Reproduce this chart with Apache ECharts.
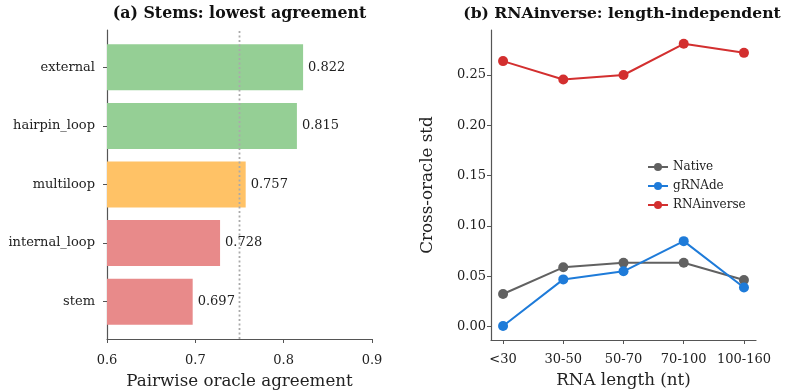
<!DOCTYPE html>
<html>
<head>
<meta charset="utf-8">
<script src="https://cdn.jsdelivr.net/npm/echarts@6/dist/echarts.min.js"></script>
<style>html,body{margin:0;padding:0;background:#fff}#c{width:786px;height:391px}</style>
</head>
<body>
<div id="c"></div>
<script>
// ---- data ----
const regions = ['external', 'hairpin_loop', 'multiloop', 'internal_loop', 'stem'];
const agreement = [0.822, 0.815, 0.757, 0.728, 0.697];
const regionColors = ['#95cf95', '#95cf95', '#ffc266', '#e88a8a', '#e88a8a'];
const threshold = 0.75;
const agreeTicks = [0.6, 0.7, 0.8, 0.9];

const lengthBins = ['<30', '30-50', '50-70', '70-100', '100-160'];
const nativeStd = [0.0325, 0.059, 0.0636, 0.0636, 0.0464];
const grnadeStd = [0.0007, 0.047, 0.055, 0.085, 0.039];
const rnainverseStd = [0.2638, 0.2455, 0.250, 0.281, 0.272];
const stdTicks = [0, 0.05, 0.10, 0.15, 0.20, 0.25];

const FONT = 'DejaVu Serif';
const AX = '#555';
const TXT = '#222';

const chart = echarts.init(document.getElementById('c'), null, {renderer: 'canvas'});

const pts = arr => arr.map((v, i) => [i, v]);

const option = {
  animation: false,
  textStyle: {fontFamily: FONT},
  graphic: [
    {type: 'text', x: 239.5, y: 14, style: {text: '(a) Stems: lowest agreement', textAlign: 'center', textVerticalAlign: 'middle', font: 'bold 15.8px "DejaVu Serif"', fill: '#111'}},
    {type: 'text', x: 622, y: 14, style: {text: '(b) RNAinverse: length-independent', textAlign: 'center', textVerticalAlign: 'middle', font: 'bold 15.6px "DejaVu Serif"', fill: '#111'}}
  ],
  grid: [
    {left: 107, top: 30, width: 265, height: 309, containLabel: false, outerBoundsMode: 'none'},
    {left: 107, top: 38, width: 265, height: 293, containLabel: false, outerBoundsMode: 'none'},
    {left: 491, top: 30, width: 265, height: 310, containLabel: false, outerBoundsMode: 'none'}
  ],
  xAxis: [
    {gridIndex: 0, type: 'value', min: 0.6, max: 0.9, interval: 0.1,
     axisLine: {show: true, onZero: false, lineStyle: {color: AX, width: 1.2}},
     axisTick: {show: true, inside: false, length: 4, lineStyle: {color: AX}},
     axisLabel: {margin: 15, fontSize: 13, color: TXT, fontFamily: FONT, formatter: v => v.toFixed(1)},
     splitLine: {show: false},
     name: 'Pairwise oracle agreement', nameLocation: 'middle', nameGap: 34,
     nameTextStyle: {fontSize: 16.7, color: TXT, fontFamily: FONT}},
    {gridIndex: 1, type: 'value', min: 0.6, max: 0.9, show: false},
    {gridIndex: 2, type: 'value', min: -0.2, max: 4.2,
     axisLine: {show: true, onZero: false, lineStyle: {color: AX, width: 1.2}},
     axisTick: {show: true, length: 4, lineStyle: {color: AX}, customValues: [0, 1, 2, 3, 4]},
     axisLabel: {margin: 13, fontSize: 13, color: TXT, fontFamily: FONT, customValues: [0, 1, 2, 3, 4],
       formatter: v => lengthBins[Math.round(v)]},
     splitLine: {show: false},
     name: 'RNA length (nt)', nameLocation: 'middle', nameGap: 32,
     nameTextStyle: {fontSize: 16.7, color: TXT, fontFamily: FONT}}
  ],
  yAxis: [
    {gridIndex: 0, type: 'value', min: 0, max: 1,
     axisLine: {show: true, onZero: false, lineStyle: {color: AX, width: 1.2}},
     axisTick: {show: false}, axisLabel: {show: false}, splitLine: {show: false}},
    {gridIndex: 1, type: 'category', data: regions, inverse: true,
     axisLine: {show: false},
     axisTick: {show: true, alignWithLabel: true, length: 4, lineStyle: {color: AX}},
     axisLabel: {margin: 12, fontSize: 13, color: TXT, fontFamily: FONT}},
    {gridIndex: 2, type: 'value', min: -0.0132, max: 0.2947,
     axisLine: {show: true, onZero: false, lineStyle: {color: AX, width: 1.2}},
     axisTick: {show: true, length: 4, lineStyle: {color: AX}, customValues: stdTicks},
     axisLabel: {margin: 5, fontSize: 13, color: TXT, fontFamily: FONT, customValues: stdTicks,
       formatter: v => v.toFixed(2)},
     splitLine: {show: false},
     name: 'Cross-oracle std', nameLocation: 'middle', nameGap: 55, nameRotate: 90,
     nameTextStyle: {fontSize: 16.7, color: TXT, fontFamily: FONT}}
  ],
  legend: {
    left: 642, top: 156, orient: 'vertical', itemWidth: 20, itemHeight: 10, itemGap: 7,
    data: ['Native', 'gRNAde', 'RNAinverse'],
    textStyle: {fontSize: 12, color: TXT, fontFamily: FONT}
  },
  series: [
    {type: 'bar', xAxisIndex: 1, yAxisIndex: 1, barWidth: 46,
     data: agreement.map((v, i) => ({value: v, itemStyle: {color: regionColors[i]}})),
     label: {show: true, position: 'right', distance: 5, fontSize: 13, color: TXT, fontFamily: FONT,
       formatter: p => p.value.toFixed(3)}, z: 2},
    {type: 'line', xAxisIndex: 0, yAxisIndex: 0, data: [[threshold, 0], [threshold, 1]],
     symbol: 'none', lineStyle: {color: '#aaaaaa', width: 1.8, type: [2, 2.5]}, z: 5, silent: true},
    {name: 'Native', type: 'line', xAxisIndex: 2, yAxisIndex: 2, data: pts(nativeStd),
     symbol: 'circle', symbolSize: 10, itemStyle: {color: '#616161'}, lineStyle: {color: '#616161', width: 2}},
    {name: 'gRNAde', type: 'line', xAxisIndex: 2, yAxisIndex: 2, data: pts(grnadeStd),
     symbol: 'circle', symbolSize: 10, itemStyle: {color: '#1e7bd9'}, lineStyle: {color: '#1e7bd9', width: 2}},
    {name: 'RNAinverse', type: 'line', xAxisIndex: 2, yAxisIndex: 2, data: pts(rnainverseStd),
     symbol: 'circle', symbolSize: 10, itemStyle: {color: '#d32f2f'}, lineStyle: {color: '#d32f2f', width: 2}}
  ]
};
chart.setOption(option);
</script>
</body>
</html>
